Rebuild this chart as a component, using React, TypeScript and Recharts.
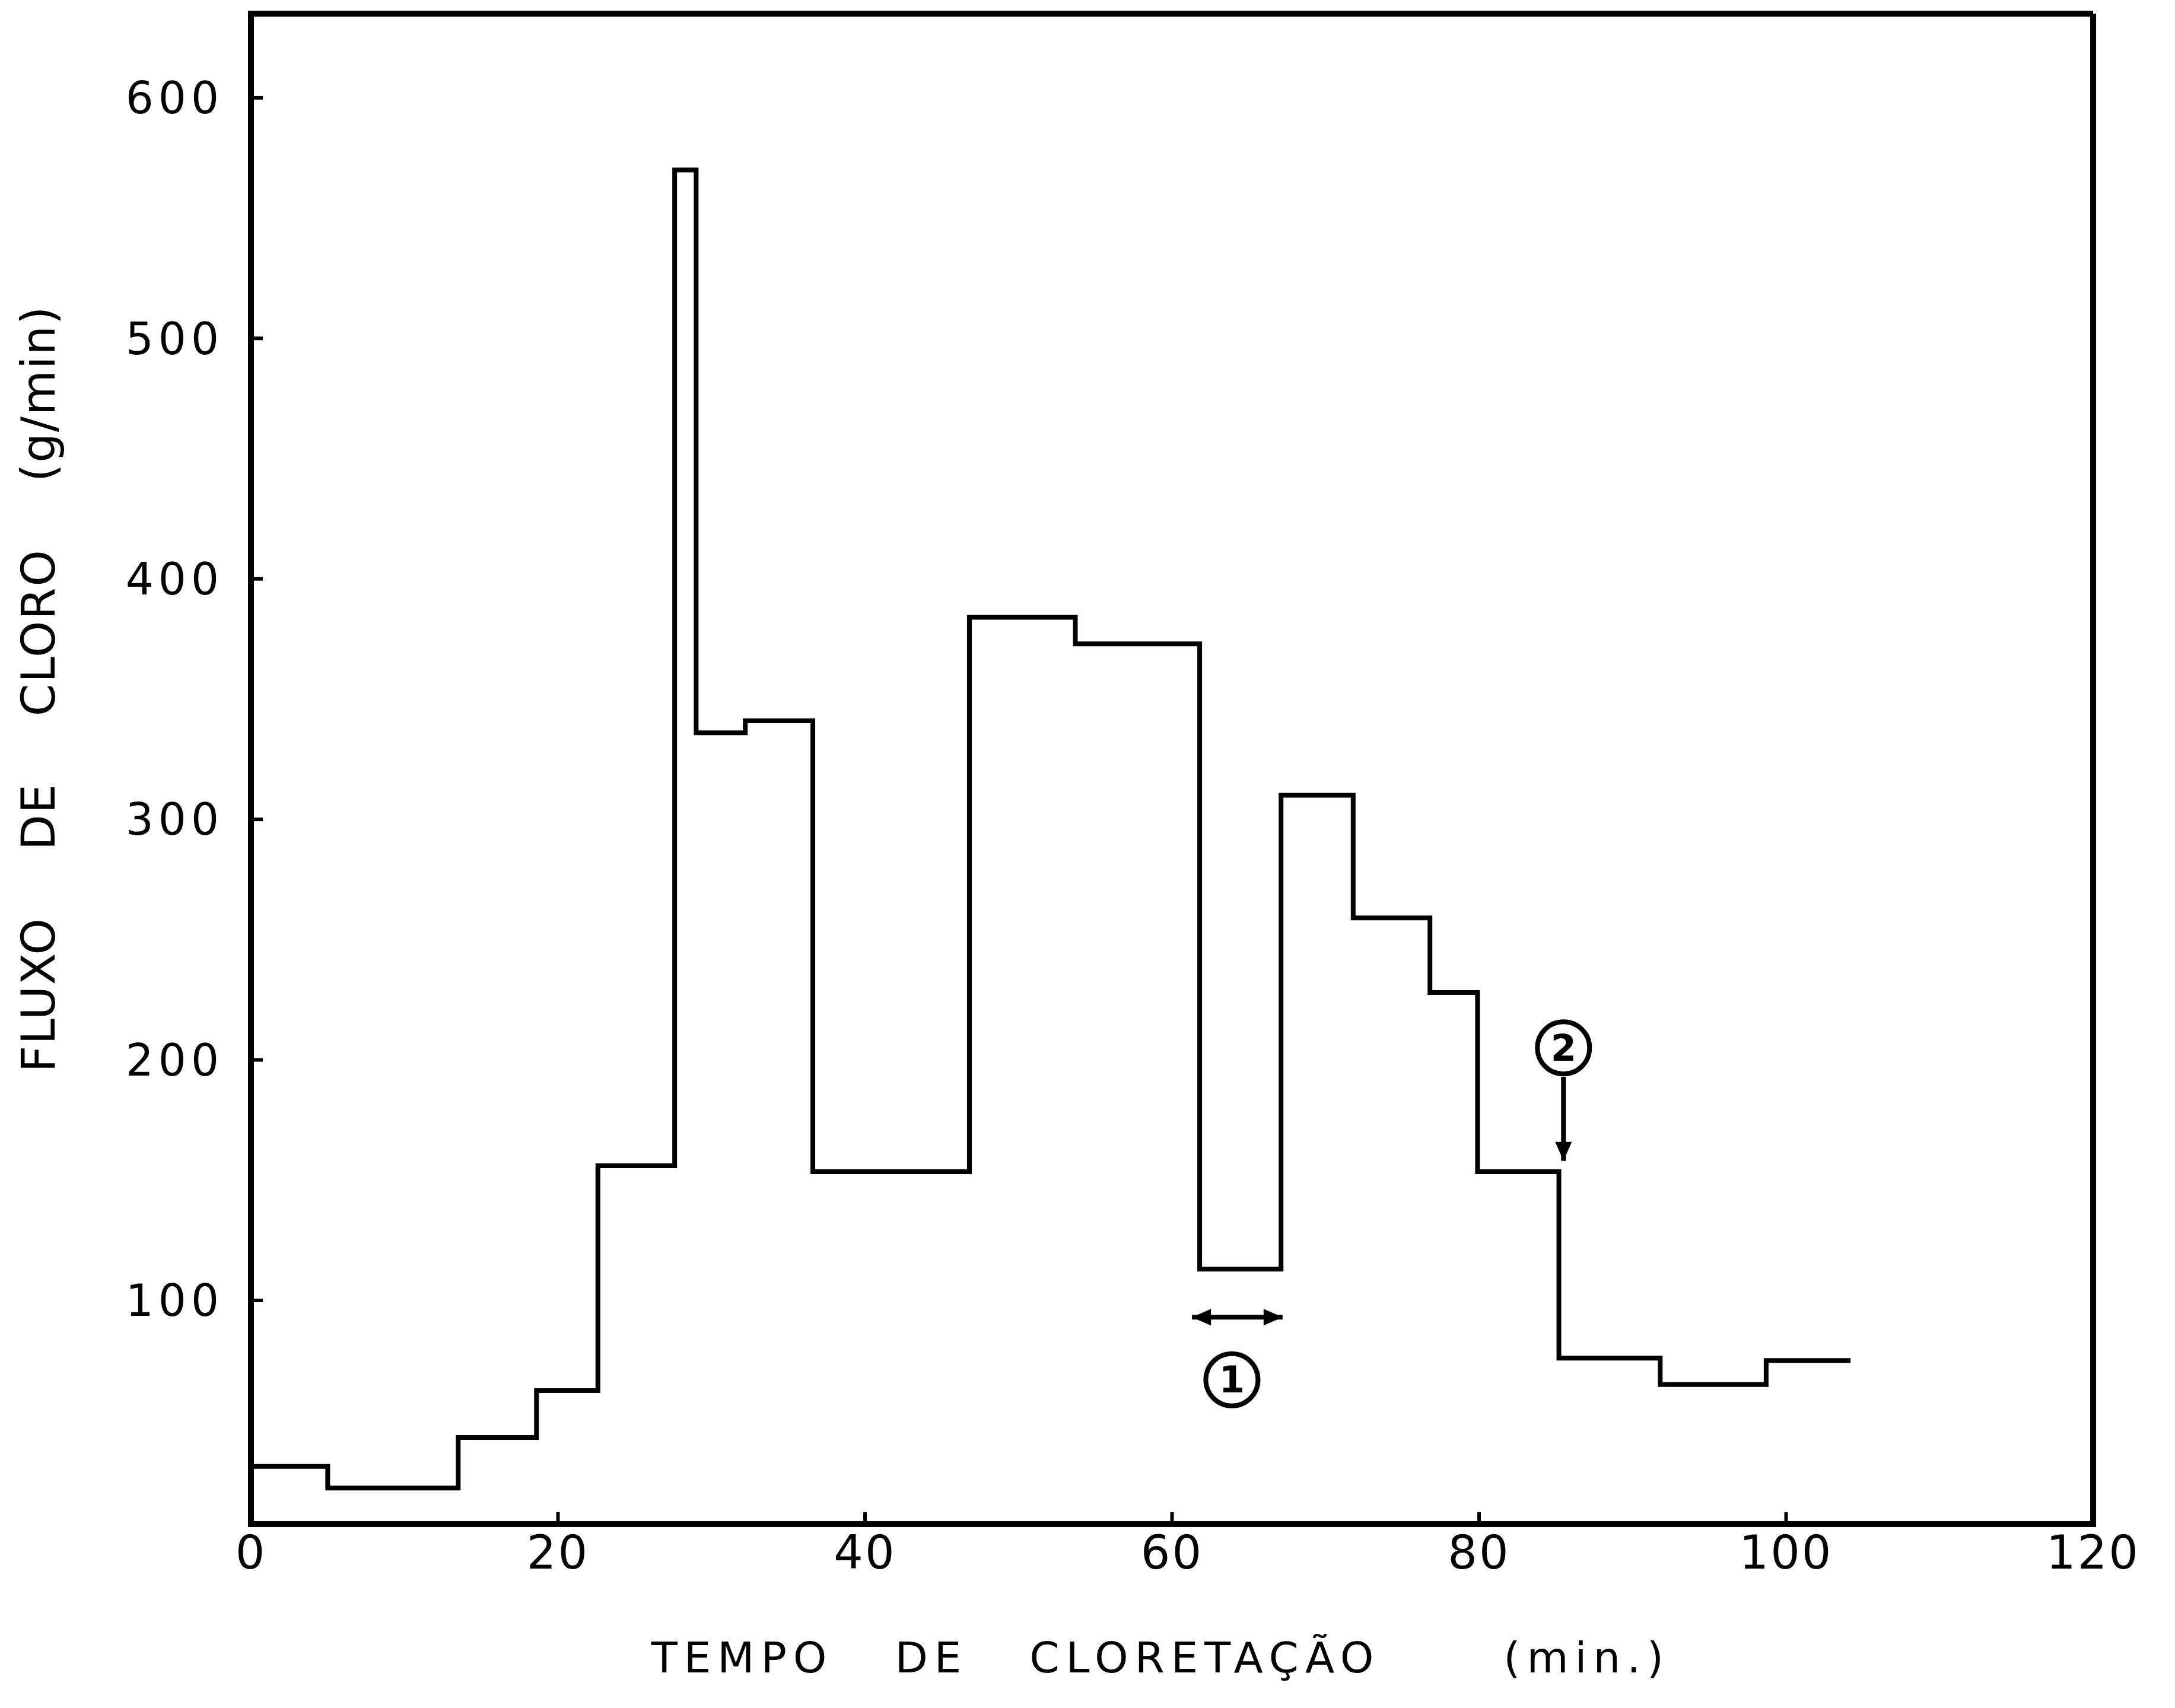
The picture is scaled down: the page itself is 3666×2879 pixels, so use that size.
import React from "react";
import { LineChart, Line, XAxis, YAxis, ReferenceLine, ReferenceDot } from "recharts";

// tempo (min) em que começa cada patamar; o último ponto fecha a curva
const tempo = [0, 5.0, 13.5, 18.6, 22.6, 27.6, 29.0, 32.2, 36.6, 46.8, 53.7, 61.8, 67.1, 71.8, 76.8, 79.9, 85.2, 91.8, 98.7, 104.2];
// fluxo de cloro (g/min) em cada patamar
const fluxo = [31, 22, 43, 62.5, 156, 570, 336, 341, 153.5, 384, 373, 113, 310, 259, 228, 153.5, 76, 65, 75, 75];

const xTicks = [0, 20, 40, 60, 80, 100, 120];
const yTicks = [100, 200, 300, 400, 500, 600];
const xDomain = [0, 120];
const yDomain = [7, 635];

// marcações (1) e (2)
const intervalo1X = [61.3, 67.2];
const intervalo1Y = 93;
const nota1 = [63.9, 67];
const nota2 = [85.5, 205];
const seta2Y = [193, 158];

const chartData = tempo.map((t, i) => ({ tempo: t, fluxo: fluxo[i] }));

const FONT = "'DejaVu Sans', sans-serif";
const INK = "#000";

const circled = (label: string) => (p: any) => (
  <g>
    <circle cx={p.cx} cy={p.cy} r={44} fill="#fff" stroke={INK} strokeWidth={8} />
    <text
      x={p.cx}
      y={p.cy}
      textAnchor="middle"
      dominantBaseline="central"
      fontSize={62}
      fontFamily={FONT}
      fontWeight="bold"
      fill={INK}
    >
      {label}
    </text>
  </g>
);

const arrow = (both: boolean) => (p: any) => {
  const { x1, y1, x2, y2 } = p;
  const a = Math.atan2(y2 - y1, x2 - x1);
  const head = (x: number, y: number, ang: number) => {
    const L = 32;
    const W = 14;
    const bx = x - L * Math.cos(ang);
    const by = y - L * Math.sin(ang);
    const px = -Math.sin(ang) * W;
    const py = Math.cos(ang) * W;
    return <polygon points={`${x},${y} ${bx + px},${by + py} ${bx - px},${by - py}`} fill={INK} />;
  };
  return (
    <g>
      <line x1={x1} y1={y1} x2={x2} y2={y2} stroke={INK} strokeWidth={8} />
      {head(x2, y2, a)}
      {both && head(x1, y1, a + Math.PI)}
    </g>
  );
};

const xTitle = (props: any) => {
  const vb = props.viewBox;
  const cx = vb.x + vb.width / 2 - 19;
  const cy = vb.y + 225;
  return (
    <text
      x={cx}
      y={cy}
      textAnchor="middle"
      dominantBaseline="central"
      fontSize={72}
      fontFamily={FONT}
      letterSpacing={11}
      wordSpacing={70}
      fill={INK}
      style={{ whiteSpace: "pre" }}
    >
      {"TEMPO DE CLORETAÇÃO  (min.)"}
    </text>
  );
};

const yTitle = (props: any) => {
  const vb = props.viewBox;
  const cx = vb.x + vb.width - 358;
  const cy = 1161;
  return (
    <text
      x={cx}
      y={cy}
      transform={`rotate(-90, ${cx}, ${cy})`}
      textAnchor="middle"
      dominantBaseline="central"
      fontSize={78}
      fontFamily={FONT}
      letterSpacing={2}
      wordSpacing={86}
      fill={INK}
      style={{ whiteSpace: "pre" }}
    >
      {"FLUXO DE CLORO (g/min)"}
    </text>
  );
};

export default function App() {
  const yTickStyle = { fill: INK, fontSize: 74, fontFamily: FONT, letterSpacing: 8 };
  const xTickStyle = { fill: INK, fontSize: 78, fontFamily: FONT, letterSpacing: 3 };
  return (
    <div style={{ position: "absolute", left: 0, top: 0, width: 3666, height: 2879, background: "#fff" }}>
      <LineChart
        width={3666}
        height={2879}
        data={chartData}
        margin={{ top: 23, right: 138, bottom: 210, left: 323 }}
      >
        <XAxis
          dataKey="tempo"
          type="number"
          domain={xDomain}
          ticks={xTicks}
          interval={0}
          height={100}
          axisLine={{ stroke: INK, strokeWidth: 10, strokeLinecap: "square" }}
          tickLine={{ stroke: INK, strokeWidth: 6 }}
          tickSize={-20}
          tickMargin={40}
          tick={xTickStyle}
          label={xTitle}
        />
        <YAxis
          type="number"
          domain={yDomain}
          ticks={yTicks}
          interval={0}
          width={100}
          axisLine={{ stroke: INK, strokeWidth: 10, strokeLinecap: "square" }}
          tickLine={{ stroke: INK, strokeWidth: 6 }}
          tickSize={-20}
          tickMargin={66}
          tick={yTickStyle}
          label={yTitle}
        />
        <ReferenceLine y={yDomain[1]} stroke={INK} strokeWidth={10} />
        <ReferenceLine x={xDomain[1]} stroke={INK} strokeWidth={10} />
        <Line
          type="stepAfter"
          dataKey="fluxo"
          stroke={INK}
          strokeWidth={8}
          strokeLinejoin="miter"
          dot={false}
          isAnimationActive={false}
        />
        <ReferenceLine
          segment={[
            { x: intervalo1X[0], y: intervalo1Y },
            { x: intervalo1X[1], y: intervalo1Y },
          ]}
          shape={arrow(true)}
        />
        <ReferenceDot x={nota1[0]} y={nota1[1]} r={44} shape={circled("1")} />
        <ReferenceLine
          segment={[
            { x: nota2[0], y: seta2Y[0] },
            { x: nota2[0], y: seta2Y[1] },
          ]}
          shape={arrow(false)}
        />
        <ReferenceDot x={nota2[0]} y={nota2[1]} r={44} shape={circled("2")} />
      </LineChart>
    </div>
  );
}
